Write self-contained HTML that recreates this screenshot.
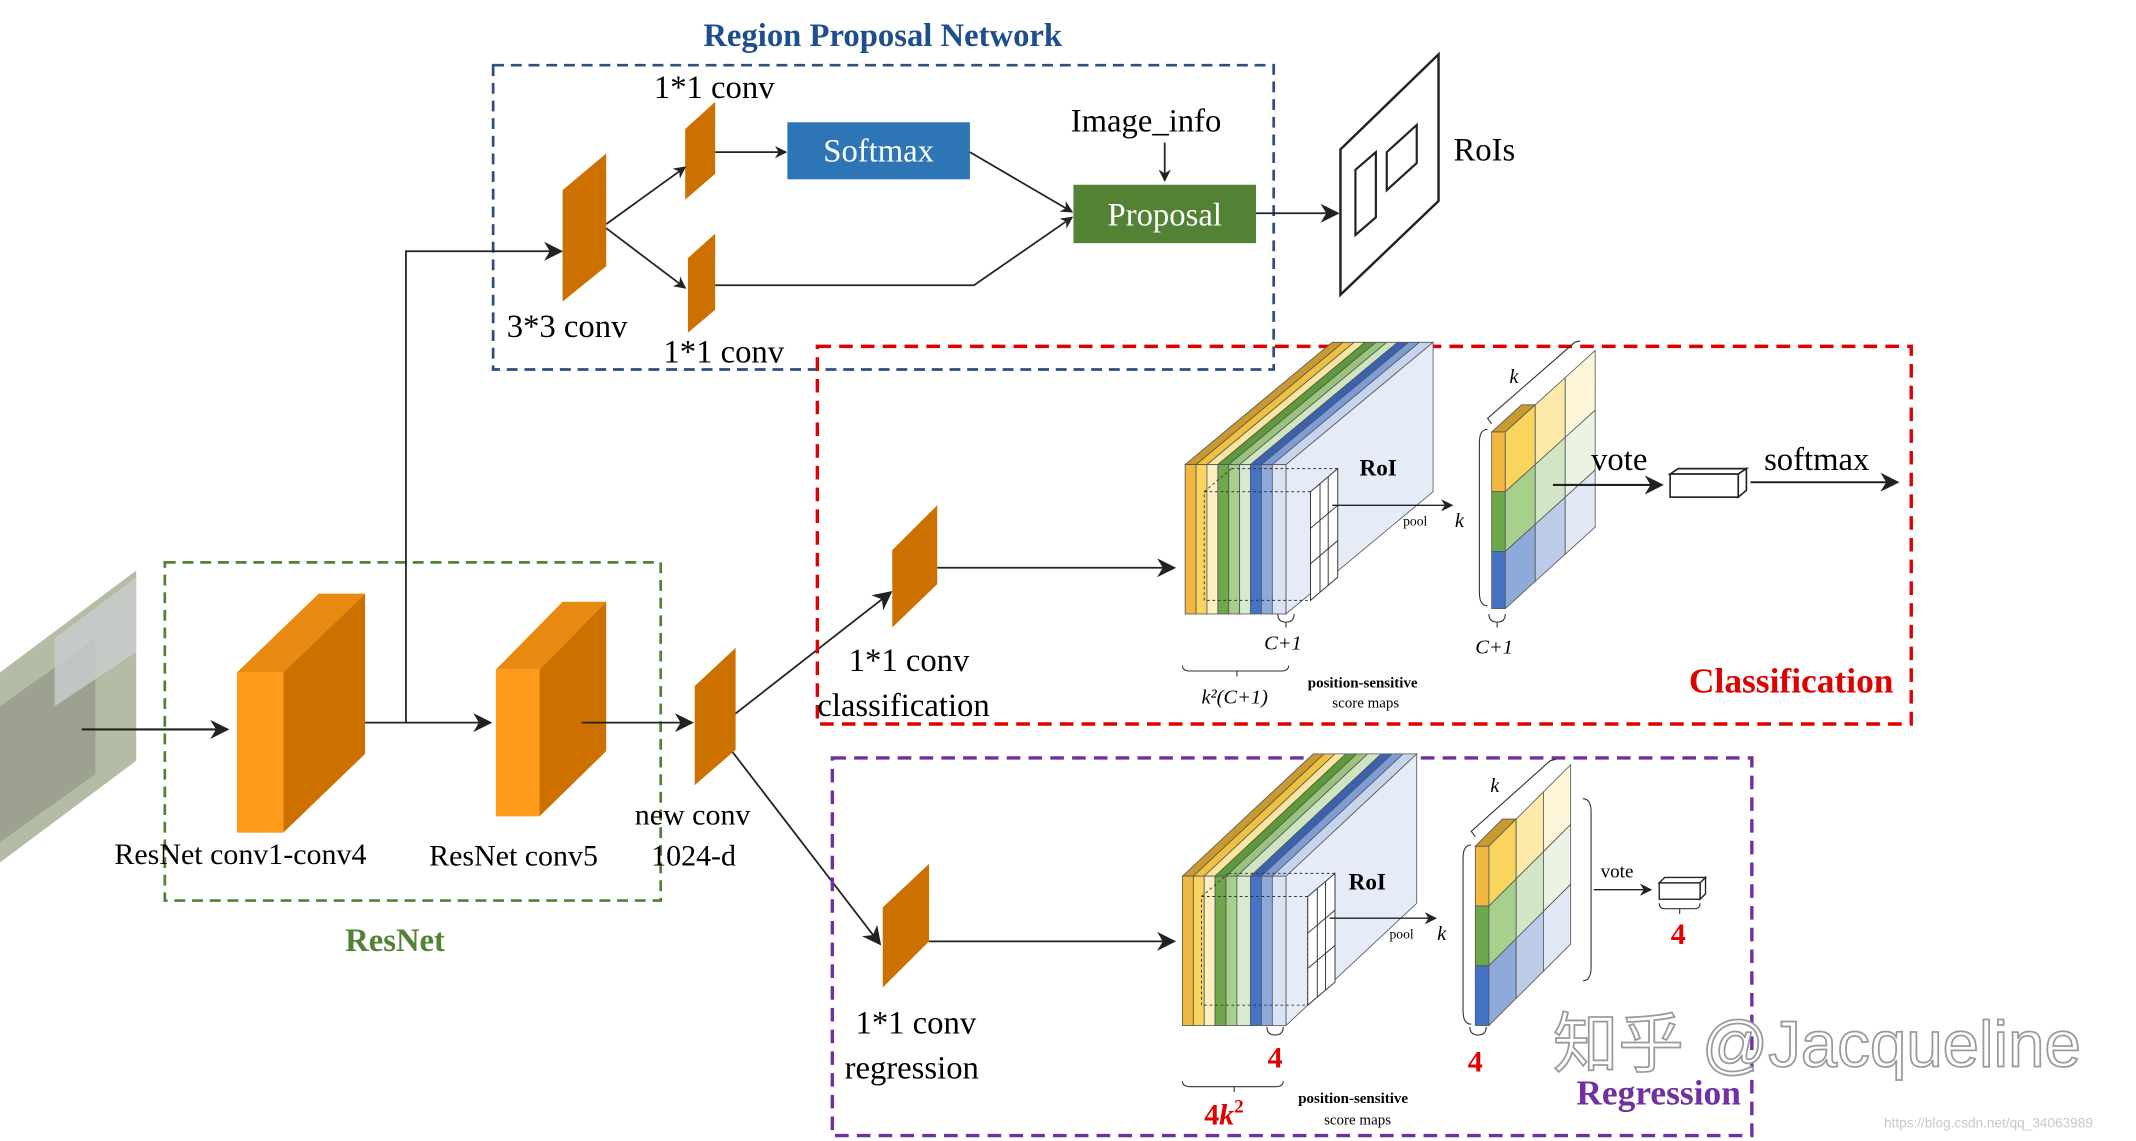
<!DOCTYPE html>
<html><head><meta charset="utf-8"><style>
html,body{margin:0;padding:0;background:#fff;width:2136px;height:1141px;overflow:hidden}
svg{display:block}
text{font-family:"Liberation Serif",serif}
</style></head><body>
<svg width="2136" height="1141" viewBox="0 0 1568 840" preserveAspectRatio="none" xmlns="http://www.w3.org/2000/svg">
<defs>
<marker id="a" viewBox="0 0 10 10" refX="9" refY="5" markerWidth="9" markerHeight="9" orient="auto" markerUnits="userSpaceOnUse"><path d="M0,0 L10,5 L0,10 L3,5 z" fill="#222"/></marker>
<marker id="b" viewBox="0 0 10 10" refX="9" refY="5" markerWidth="14" markerHeight="14" orient="auto" markerUnits="userSpaceOnUse"><path d="M0,0 L10,5 L0,10 L3,5 z" fill="#222"/></marker>
</defs>
<!-- RPN -->
<rect x="362" y="48" width="573" height="224" fill="none" stroke="#2f4f7f" stroke-width="2" stroke-dasharray="8,5"/>
<text x="648" y="34" font-size="24" font-weight="bold" fill="#1f4e8c" text-anchor="middle">Region Proposal Network</text>
<polygon points="413,140 445,113 445,196 413,222" fill="#cc7000"/>
<text x="372" y="248" font-size="24">3*3 conv</text>
<polygon points="503,95 525,75 525,128 503,147" fill="#cc7000"/>
<text x="480" y="72" font-size="24">1*1 conv</text>
<polygon points="505,190 525,172 525,228 505,245" fill="#cc7000"/>
<text x="487" y="267" font-size="24">1*1 conv</text>
<rect x="578" y="90" width="134" height="42" fill="#2e75b6"/>
<text x="645" y="119" font-size="24" fill="#fff" text-anchor="middle">Softmax</text>
<rect x="788" y="136" width="134" height="43" fill="#548235"/>
<text x="855" y="166" font-size="24" fill="#fff" text-anchor="middle">Proposal</text>
<text x="786" y="97" font-size="24">Image_info</text>
<g stroke="#222" stroke-width="1.3" fill="none">
<line x1="855" y1="105" x2="855" y2="133" marker-end="url(#a)"/>
<line x1="445" y1="165" x2="503" y2="123" marker-end="url(#a)"/>
<line x1="445" y1="168" x2="503" y2="212" marker-end="url(#a)"/>
<line x1="525" y1="112" x2="577" y2="112" marker-end="url(#a)"/>
<polyline points="525,210 715,210 787,160" marker-end="url(#a)"/>
<line x1="712" y1="112" x2="787" y2="156" marker-end="url(#a)"/>
<line x1="922" y1="157" x2="982" y2="157" marker-end="url(#b)"/>
<polygon points="984,110 1056,40 1056,148 984,217" stroke-width="1.8"/>
<polygon points="995,125 1010,112 1010,160 995,173" stroke-width="1.6"/>
<polygon points="1018,112 1040,92 1040,120 1018,140" stroke-width="1.6"/>
</g>
<text x="1067" y="118" font-size="24">RoIs</text>
<!-- left image -->
<polygon points="0,495 100,420 100,560 0,635" fill="#b5bca6"/>
<polygon points="0,520 70,470 70,570 0,620" fill="#8d9080" opacity="0.6"/>
<polygon points="40,470 100,425 100,480 40,520" fill="#c9cdd0" opacity="0.8"/>
<line x1="60" y1="537" x2="167" y2="537" stroke="#222" stroke-width="1.5" marker-end="url(#b)"/>
<!-- ResNet -->
<rect x="121" y="414" width="364" height="249" fill="none" stroke="#538135" stroke-width="2" stroke-dasharray="8,5"/>
<text x="290" y="700" font-size="24" font-weight="bold" fill="#538135" text-anchor="middle">ResNet</text>
<polygon points="174,495 234,437 268,437 208,495" fill="#e88a10"/>
<polygon points="208,495 268,437 268,555 208,613" fill="#cc7000"/>
<rect x="174" y="495" width="34" height="118" fill="#ff9a1a"/>
<polygon points="364,493 413,443 445,443 396,493" fill="#e88a10"/>
<polygon points="396,493 445,443 445,553 396,601" fill="#cc7000"/>
<rect x="364" y="493" width="32" height="108" fill="#ff9a1a"/>
<g stroke="#222" stroke-width="1.3" fill="none">
<line x1="268" y1="532" x2="360" y2="532" marker-end="url(#b)"/>
<polyline points="298,532 298,185 412,185" marker-end="url(#b)"/>
<line x1="427" y1="532" x2="508" y2="532" marker-end="url(#b)"/>
<line x1="525" y1="537" x2="654" y2="436" marker-end="url(#b)"/>
<line x1="525" y1="537" x2="646" y2="695" marker-end="url(#b)"/>
<line x1="688" y1="418" x2="862" y2="418" marker-end="url(#b)"/>
<line x1="682" y1="693" x2="862" y2="693" marker-end="url(#b)"/>
</g>
<text x="84" y="636" font-size="22">ResNet conv1-conv4</text>
<text x="315" y="637" font-size="22">ResNet conv5</text>
<polygon points="510,505 540,477 540,552 510,578" fill="#cc7000"/>
<text x="466" y="607" font-size="22">new conv</text>
<text x="478" y="637" font-size="22">1024-d</text>
<!-- Classification -->
<rect x="600" y="255" width="803" height="278" fill="none" stroke="#e00000" stroke-width="2.5" stroke-dasharray="10,6"/>
<text x="1390" y="510" font-size="26" font-weight="bold" fill="#e00000" text-anchor="end">Classification</text>
<polygon points="655,405 688,372 688,430 655,462" fill="#cc7000"/>
<text x="623" y="494" font-size="24">1*1 conv</text>
<text x="600" y="527" font-size="24">classification</text>
<g stroke="#555" stroke-width="0.6">
<polygon points="944,342 1052,252 1052,362 944,452" fill="#e6ecf7"/>
<polygon points="870,342 978,252 986,252 878,342" fill="#c99a30"/>
<polygon points="878,342 986,252 994,252 886,342" fill="#f0c040"/>
<polygon points="886,342 994,252 1002,252 894,342" fill="#fae6a0"/>
<polygon points="894,342 1002,252 1010,252 902,342" fill="#5e9a3c"/>
<polygon points="902,342 1010,252 1018,252 910,342" fill="#98c47c"/>
<polygon points="910,342 1018,252 1026,252 918,342" fill="#cfe4c2"/>
<polygon points="918,342 1026,252 1034,252 926,342" fill="#3a62b0"/>
<polygon points="926,342 1034,252 1042,252 934,342" fill="#7e9dd6"/>
<polygon points="934,342 1042,252 1052,252 944,342" fill="#c6d4ee"/>
<rect x="870" y="342" width="8" height="110" fill="#f0b840"/>
<rect x="878" y="342" width="8" height="110" fill="#f9d55e"/>
<rect x="886" y="342" width="8" height="110" fill="#fdf0c0"/>
<rect x="894" y="342" width="8" height="110" fill="#6ea84a"/>
<rect x="902" y="342" width="8" height="110" fill="#a8d08d"/>
<rect x="910" y="342" width="8" height="110" fill="#d9ead3"/>
<rect x="918" y="342" width="8" height="110" fill="#4472c4"/>
<rect x="926" y="342" width="8" height="110" fill="#8eaadb"/>
<rect x="934" y="342" width="10" height="110" fill="#dae3f3"/>
</g>
<g stroke="#333" stroke-width="0.7" fill="none">
<rect x="884" y="362" width="78" height="80" stroke-dasharray="2,2"/>
<line x1="884" y1="362" x2="904" y2="345" stroke-dasharray="2,2"/><line x1="904" y1="345" x2="982" y2="345" stroke-dasharray="2,2"/>
<polygon points="962,362 982,345 982,425 962,442" fill="#fff"/>
<line x1="969" y1="356" x2="969" y2="436"/><line x1="975" y1="351" x2="975" y2="431"/>
<line x1="962" y1="389" x2="982" y2="372"/><line x1="962" y1="415" x2="982" y2="398"/>
</g>
<line x1="978" y1="372" x2="1066" y2="372" stroke="#222" stroke-width="1" marker-end="url(#a)"/>
<text x="998" y="350" font-size="17" font-weight="bold">RoI</text>
<text x="1030" y="387" font-size="10">pool</text>
<g stroke="#555" stroke-width="0.6">
<polygon points="1095,318 1105,318 1127,298 1117,298" fill="#c99a30"/>
<rect x="1095" y="318" width="10" height="44" fill="#f0b840"/>
<rect x="1095" y="362" width="10" height="44" fill="#6ea84a"/>
<rect x="1095" y="406" width="10" height="42" fill="#4472c4"/>
<polygon points="1105,318 1127,298 1127,342 1105,362" fill="#f9d55e"/>
<polygon points="1127,298 1149,278 1149,322 1127,342" fill="#fde9a9"/>
<polygon points="1149,278 1171,258 1171,302 1149,322" fill="#fdf5d8"/>
<polygon points="1105,362 1127,342 1127,386 1105,406" fill="#a8d08d"/>
<polygon points="1127,342 1149,322 1149,366 1127,386" fill="#d2e6c5"/>
<polygon points="1149,322 1171,302 1171,346 1149,366" fill="#eaf3e4"/>
<polygon points="1105,406 1127,386 1127,428 1105,448" fill="#8eaadb"/>
<polygon points="1127,386 1149,366 1149,408 1127,428" fill="#bccbe8"/>
<polygon points="1149,366 1171,346 1171,388 1149,408" fill="#e0e8f5"/>
</g>
<g stroke="#333" stroke-width="0.8" fill="none">
<path d="M1092,316 q-6,0 -6,10 v110 q0,10 6,10"/>
<path d="M1095,312 l-3,-4 l64,-56 l4,-1"/>
<path d="M868,490 q0,4 6,4 h66 q6,0 6,-4 M908,494 v4"/>
<path d="M938,452 q0,6 6,6 q6,0 6,-6 M944,458 v4"/>
<path d="M1093,452 q0,6 6,6 q6,0 6,-6 M1099,458 v4"/>
</g>
<text x="1108" y="282" font-size="15" font-style="italic">k</text>
<text x="1068" y="388" font-size="15" font-style="italic">k</text>
<text x="928" y="478" font-size="15" font-style="italic">C+1</text>
<text x="1083" y="481" font-size="15" font-style="italic">C+1</text>
<text x="882" y="518" font-size="15" font-style="italic">k²(C+1)</text>
<text x="960" y="506" font-size="11" font-weight="bold">position-sensitive</text>
<text x="978" y="521" font-size="11">score maps</text>
<line x1="1140" y1="357" x2="1220" y2="357" stroke="#222" stroke-width="1.5" marker-end="url(#b)"/>
<text x="1168" y="346" font-size="24">vote</text>
<g stroke="#222" stroke-width="1.2" fill="#fff"><polygon points="1226,349 1232,345 1282,345 1276,349"/><polygon points="1276,349 1282,345 1282,361 1276,366"/><rect x="1226" y="349" width="50" height="17"/></g>
<line x1="1285" y1="355" x2="1393" y2="355" stroke="#222" stroke-width="1.5" marker-end="url(#b)"/>
<text x="1295" y="346" font-size="24">softmax</text>
<!-- Regression -->
<rect x="611" y="558" width="675" height="278" fill="none" stroke="#7030a0" stroke-width="2.5" stroke-dasharray="10,6"/>
<text x="1278" y="813" font-size="26" font-weight="bold" fill="#7030a0" text-anchor="end">Regression</text>
<polygon points="648,668 682,636 682,693 648,727" fill="#cc7000"/>
<text x="628" y="761" font-size="24">1*1 conv</text>
<text x="620" y="794" font-size="24">regression</text>
<g stroke="#555" stroke-width="0.6">
<polygon points="944,645 1040,555 1040,665 944,755" fill="#e6ecf7"/>
<polygon points="868,645 964,555 972,555 876,645" fill="#c99a30"/>
<polygon points="876,645 972,555 980,555 884,645" fill="#f0c040"/>
<polygon points="884,645 980,555 988,555 892,645" fill="#fae6a0"/>
<polygon points="892,645 988,555 996,555 900,645" fill="#5e9a3c"/>
<polygon points="900,645 996,555 1004,555 908,645" fill="#98c47c"/>
<polygon points="908,645 1004,555 1014,555 918,645" fill="#cfe4c2"/>
<polygon points="918,645 1014,555 1022,555 926,645" fill="#3a62b0"/>
<polygon points="926,645 1022,555 1030,555 934,645" fill="#7e9dd6"/>
<polygon points="934,645 1030,555 1040,555 944,645" fill="#c6d4ee"/>
<rect x="868" y="645" width="8" height="110" fill="#f0b840"/>
<rect x="876" y="645" width="8" height="110" fill="#f9d55e"/>
<rect x="884" y="645" width="8" height="110" fill="#fdf0c0"/>
<rect x="892" y="645" width="8" height="110" fill="#6ea84a"/>
<rect x="900" y="645" width="8" height="110" fill="#a8d08d"/>
<rect x="908" y="645" width="10" height="110" fill="#d9ead3"/>
<rect x="918" y="645" width="8" height="110" fill="#4472c4"/>
<rect x="926" y="645" width="8" height="110" fill="#8eaadb"/>
<rect x="934" y="645" width="10" height="110" fill="#dae3f3"/>
</g>
<g stroke="#333" stroke-width="0.7" fill="none">
<rect x="882" y="660" width="78" height="80" stroke-dasharray="2,2"/>
<line x1="882" y1="660" x2="902" y2="643" stroke-dasharray="2,2"/><line x1="902" y1="643" x2="980" y2="643" stroke-dasharray="2,2"/>
<polygon points="960,660 980,643 980,723 960,740" fill="#fff"/>
<line x1="967" y1="654" x2="967" y2="734"/><line x1="973" y1="649" x2="973" y2="729"/>
<line x1="960" y1="687" x2="980" y2="670"/><line x1="960" y1="713" x2="980" y2="696"/>
</g>
<line x1="976" y1="676" x2="1054" y2="676" stroke="#222" stroke-width="1" marker-end="url(#a)"/>
<text x="990" y="655" font-size="17" font-weight="bold">RoI</text>
<text x="1020" y="691" font-size="10">pool</text>
<g stroke="#555" stroke-width="0.6">
<polygon points="1083,623 1093,623 1113,603 1103,603" fill="#c99a30"/>
<rect x="1083" y="623" width="10" height="44" fill="#f0b840"/>
<rect x="1083" y="667" width="10" height="44" fill="#6ea84a"/>
<rect x="1083" y="711" width="10" height="44" fill="#4472c4"/>
<polygon points="1093,623 1113,603 1113,647 1093,667" fill="#f9d55e"/>
<polygon points="1113,603 1133,583 1133,627 1113,647" fill="#fde9a9"/>
<polygon points="1133,583 1153,563 1153,607 1133,627" fill="#fdf5d8"/>
<polygon points="1093,667 1113,647 1113,691 1093,711" fill="#a8d08d"/>
<polygon points="1113,647 1133,627 1133,671 1113,691" fill="#d2e6c5"/>
<polygon points="1133,627 1153,607 1153,651 1133,671" fill="#eaf3e4"/>
<polygon points="1093,711 1113,691 1113,735 1093,755" fill="#8eaadb"/>
<polygon points="1113,691 1133,671 1133,715 1113,735" fill="#bccbe8"/>
<polygon points="1133,671 1153,651 1153,695 1133,715" fill="#e0e8f5"/>
</g>
<g stroke="#333" stroke-width="0.8" fill="none">
<path d="M1080,622 q-6,0 -6,10 v112 q0,10 6,10"/>
<path d="M1083,616 l-3,-4 l58,-52 l4,-1"/>
<path d="M1162,588 q6,0 6,10 v114 q0,10 -6,10"/>
<path d="M868,796 q0,4 6,4 h62 q6,0 6,-4 M906,800 v4"/>
<path d="M930,756 q0,6 6,6 q6,0 6,-6"/>
<path d="M1079,756 q0,6 6,6 q6,0 6,-6"/>
<path d="M1218,665 q0,4 4,4 h22 q4,0 4,-4 M1233,669 v4"/>
</g>
<text x="1094" y="583" font-size="15" font-style="italic">k</text>
<text x="1055" y="692" font-size="15" font-style="italic">k</text>
<text x="936" y="786" font-size="22" font-weight="bold" fill="#e00000" text-anchor="middle">4</text>
<text x="1083" y="789" font-size="22" font-weight="bold" fill="#e00000" text-anchor="middle">4</text>
<text x="1232" y="695" font-size="22" font-weight="bold" fill="#e00000" text-anchor="middle">4</text>
<text x="884" y="828" font-size="22" font-weight="bold" fill="#e00000">4<tspan font-style="italic">k</tspan><tspan font-size="14" dy="-9">2</tspan></text>
<text x="953" y="812" font-size="11" font-weight="bold">position-sensitive</text>
<text x="972" y="828" font-size="11">score maps</text>
<line x1="1170" y1="655" x2="1212" y2="655" stroke="#222" stroke-width="1" marker-end="url(#a)"/>
<text x="1175" y="646" font-size="14">vote</text>
<g stroke="#222" stroke-width="1" fill="#fff"><polygon points="1218,650 1222,646 1252,646 1248,650"/><polygon points="1248,650 1252,646 1252,658 1248,662"/><rect x="1218" y="650" width="30" height="12"/></g>
<text x="1140" y="785" font-size="48" fill="#fff" stroke="#9a9a9a" stroke-width="1.3" style="font-family:'Liberation Sans','Noto Sans CJK SC',sans-serif">知乎 @Jacqueline</text>
<text x="1383" y="830" font-size="10" fill="#c8c8c8" style="font-family:'Liberation Sans',sans-serif">https://blog.csdn.net/qq_34063989</text>
</svg>
</body></html>
